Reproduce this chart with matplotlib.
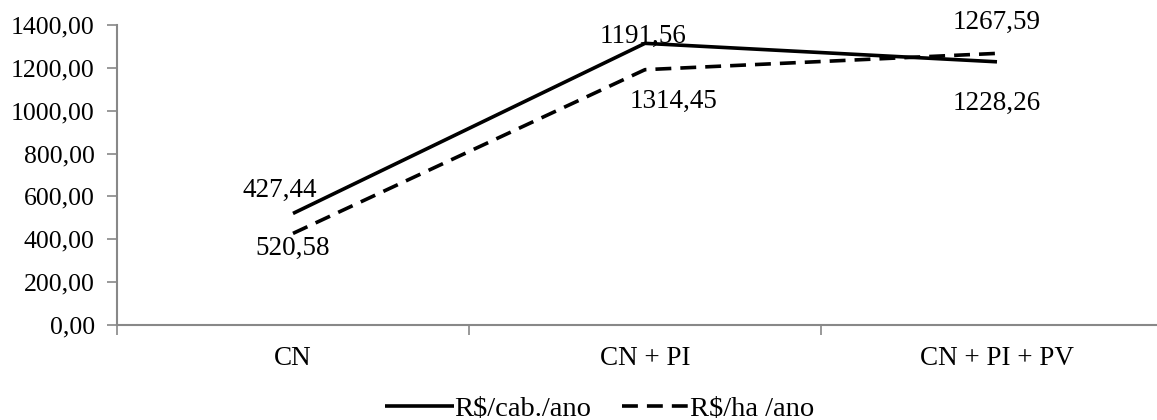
import numpy as np
import matplotlib.pyplot as plt

plt.rcParams['font.family'] = ['Liberation Serif', 'DejaVu Serif']

# dados
categorias = ["CN", "CN + PI", "CN + PI + PV"]
cab_ano = [520.58, 1314.45, 1228.26]   # R$/cab./ano (linha contínua)
ha_ano = [427.44, 1191.56, 1267.59]    # R$/ha /ano (linha tracejada)

# posição dos rótulos (deslocamento em pixels relativo ao ponto)
off_ha = [(-13, 43), (-2, 33), (0, 31)]
off_cab = [(0, -35), (29, -58), (0, -42)]

fig = plt.figure(figsize=(11.57, 4.2), dpi=100)
ax = fig.add_axes([117 / 1157, 1 - 325 / 420, 1056 / 1157, 300 / 420])

x = np.arange(len(categorias))
ax.plot(x, cab_ano, color="black", lw=2.6, solid_capstyle="butt", label="R$/cab./ano")
ax.plot(x, ha_ano, color="black", lw=2.6, ls=(0, (4.4, 2.5)), label="R$/ha /ano")


def fmt(v):
    return f"{v:.2f}".replace(".", ",")


for i in range(len(x)):
    ax.annotate(fmt(ha_ano[i]), (x[i], ha_ano[i]),
                xytext=(off_ha[i][0] * 0.72, off_ha[i][1] * 0.72),
                textcoords="offset points", ha="center", va="center", fontsize=19.5)
    ax.annotate(fmt(cab_ano[i]), (x[i], cab_ano[i]),
                xytext=(off_cab[i][0] * 0.72, off_cab[i][1] * 0.72),
                textcoords="offset points", ha="center", va="center", fontsize=19.5)

ax.set_xlim(-0.5, 2.5)
ax.set_ylim(0, 1400)
ax.set_yticks(np.arange(0, 1401, 200))
ax.set_yticklabels([fmt(v) for v in np.arange(0, 1401, 200)], fontsize=18.5)

ax.set_xticks([-0.5, 0.5, 1.5, 2.5])
ax.set_xticklabels([])
ax.set_xticks(x, minor=True)
ax.set_xticklabels(categorias, minor=True, fontsize=19.5)
ax.tick_params(axis="x", which="minor", length=0, pad=15)
ax.tick_params(axis="x", which="major", length=7, width=1.2, color="#888888", direction="out")
ax.tick_params(axis="y", length=7, width=1.2, color="#888888", direction="out", pad=9)

for s in ["top", "right"]:
    ax.spines[s].set_visible(False)
for s in ["left", "bottom"]:
    ax.spines[s].set_color("#888888")
    ax.spines[s].set_linewidth(1.5)

fig.legend(loc="center", bbox_to_anchor=(600 / 1157, 1 - 409 / 420), ncol=2,
           frameon=False, fontsize=20.5, handlelength=2.4, handletextpad=0.0,
           columnspacing=1.1, borderaxespad=0)

fig.savefig("out.png", dpi=100)
